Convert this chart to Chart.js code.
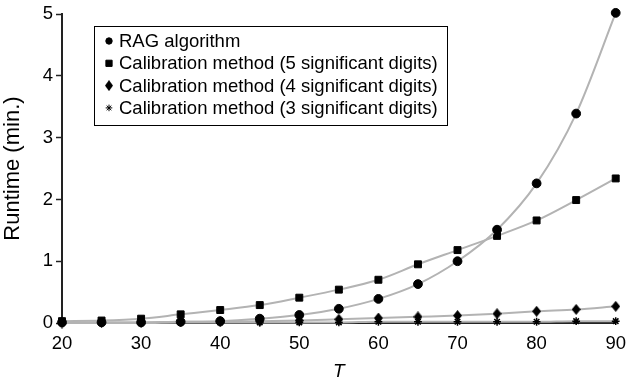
<!DOCTYPE html>
<html>
<head>
<meta charset="utf-8">
<script src="https://cdn.jsdelivr.net/npm/chart.js@4/dist/chart.umd.min.js"></script>
<style>
  html, body { margin: 0; padding: 0; background: #fff; }
  #wrap { width: 628px; height: 383px; position: relative; }
</style>
</head>
<body>
<div id="wrap"><canvas id="runtimeChart" width="628" height="383"></canvas></div>
<script>
const tValues = [20, 25, 30, 35, 40, 45, 50, 55, 60, 65, 70, 75, 80, 85, 90];
const ragRuntime = [0.01, 0.01, 0.01, 0.02, 0.03, 0.07, 0.13, 0.23, 0.39, 0.63, 1.00, 1.51, 2.26, 3.39, 5.02];
const cal5Runtime = [0.03, 0.04, 0.07, 0.14, 0.21, 0.29, 0.41, 0.54, 0.70, 0.95, 1.18, 1.41, 1.66, 1.99, 2.34];
const cal4Runtime = [0.00, 0.01, 0.01, 0.02, 0.02, 0.03, 0.04, 0.06, 0.08, 0.10, 0.12, 0.15, 0.19, 0.22, 0.27];
const cal3Runtime = [0.00, 0.00, 0.00, 0.01, 0.01, 0.01, 0.01, 0.01, 0.02, 0.02, 0.02, 0.02, 0.02, 0.03, 0.03];
const seriesLabels = [
    'RAG algorithm',
    'Calibration method (5 significant digits)',
    'Calibration method (4 significant digits)',
    'Calibration method (3 significant digits)'
];
const yTicks = [0, 1, 2, 3, 4, 5];

const FONT = '"Liberation Sans", Arial, Helvetica, sans-serif';

// tall diamond marker, the built-in rectRot is a square
function diamondMarker(w, h) {
    const c = document.createElement('canvas');
    c.width = w;
    c.height = h;
    const g = c.getContext('2d');
    g.fillStyle = '#000';
    g.beginPath();
    g.moveTo(w / 2, 0);
    g.lineTo(w, h / 2);
    g.lineTo(w / 2, h);
    g.lineTo(0, h / 2);
    g.closePath();
    g.fill();
    return c;
}
const plotDiamond = diamondMarker(9, 11);
const legendDiamond = diamondMarker(8, 11);

function toPoints(values) {
    return tValues.map((t, i) => ({ x: t, y: values[i] }));
}

function makeSeries(label, values, style, radius, extra) {
    return Object.assign({
        label: label,
        data: toPoints(values),
        borderColor: '#b3b3b3',
        borderWidth: 2,
        cubicInterpolationMode: 'monotone',
        pointStyle: style,
        pointRadius: radius,
        pointBackgroundColor: '#000',
        pointBorderColor: '#000',
        pointBorderWidth: 1,
        fill: false,
        clip: false
    }, extra || {});
}

// legend drawn inside the plot, boxed
const boxedLegend = {
    id: 'boxedLegend',
    afterDraw(chart) {
        const ctx = chart.ctx;
        const left = 94.5, top = 26.5, right = 447.5, bottom = 125.5;
        ctx.save();
        ctx.fillStyle = '#fff';
        ctx.fillRect(left, top, right - left, bottom - top);
        ctx.strokeStyle = '#000';
        ctx.lineWidth = 1;
        ctx.strokeRect(left, top, right - left, bottom - top);
        ctx.font = '18.5px ' + FONT;
        ctx.textBaseline = 'middle';
        const styles = [
            { pointStyle: 'circle', radius: 3.2, borderWidth: 1 },
            { pointStyle: 'rect', radius: 4.4, borderWidth: 1 },
            { pointStyle: legendDiamond, radius: 4, borderWidth: 1 },
            { pointStyle: 'star', radius: 3.3, borderWidth: 1.3 }
        ];
        chart.data.datasets.forEach((ds, i) => {
            const y = 41 + i * 22.3;
            ctx.strokeStyle = '#000';
            ctx.fillStyle = '#000';
            Chart.helpers.drawPoint(ctx, styles[i], 109, y);
            ctx.fillStyle = '#000';
            ctx.fillText(ds.label, 119, y + 1);
        });
        ctx.restore();
    }
};

const ctx = document.getElementById('runtimeChart').getContext('2d');
new Chart(ctx, {
    type: 'line',
    data: {
        datasets: [
            makeSeries(seriesLabels[0], ragRuntime, 'circle', 4.4),
            makeSeries(seriesLabels[1], cal5Runtime, 'rect', 4.9),
            makeSeries(seriesLabels[2], cal4Runtime, plotDiamond, 5),
            makeSeries(seriesLabels[3], cal3Runtime, 'star', 3.9, { pointBorderWidth: 1.5 })
        ]
    },
    options: {
        responsive: false,
        animation: false,
        devicePixelRatio: 1,
        layout: { padding: { top: 12, right: 8, left: 0, bottom: 0 } },
        plugins: {
            legend: { display: false },
            tooltip: { enabled: false }
        },
        scales: {
            x: {
                type: 'linear',
                min: 20,
                max: 90,
                grid: { display: false },
                border: { display: true, color: '#222', width: 2 },
                ticks: {
                    stepSize: 10,
                    padding: 2,
                    color: '#000',
                    font: { family: FONT, size: 18.5 }
                },
                title: {
                    display: true,
                    text: 'T',
                    color: '#000',
                    padding: { top: 0, bottom: 0 },
                    font: { family: FONT, size: 19, style: 'italic' }
                },
                afterFit(scale) { scale.height = 60; }
            },
            y: {
                min: 0,
                max: 5,
                afterBuildTicks(scale) { scale.ticks = yTicks.map(v => ({ value: v })); },
                grid: {
                    display: true,
                    drawOnChartArea: false,
                    drawTicks: true,
                    tickLength: 6,
                    tickColor: '#222',
                    tickWidth: 1.5
                },
                border: { display: true, color: '#222', width: 2 },
                ticks: {
                    padding: 3,
                    color: '#000',
                    font: { family: FONT, size: 18.5 }
                },
                title: {
                    display: true,
                    text: 'Runtime (min.)',
                    color: '#000',
                    padding: { top: 0, bottom: 0 },
                    font: { family: FONT, size: 22 }
                },
                afterFit(scale) { scale.width = 62; }
            }
        }
    },
    plugins: [boxedLegend]
});
</script>
</body>
</html>
